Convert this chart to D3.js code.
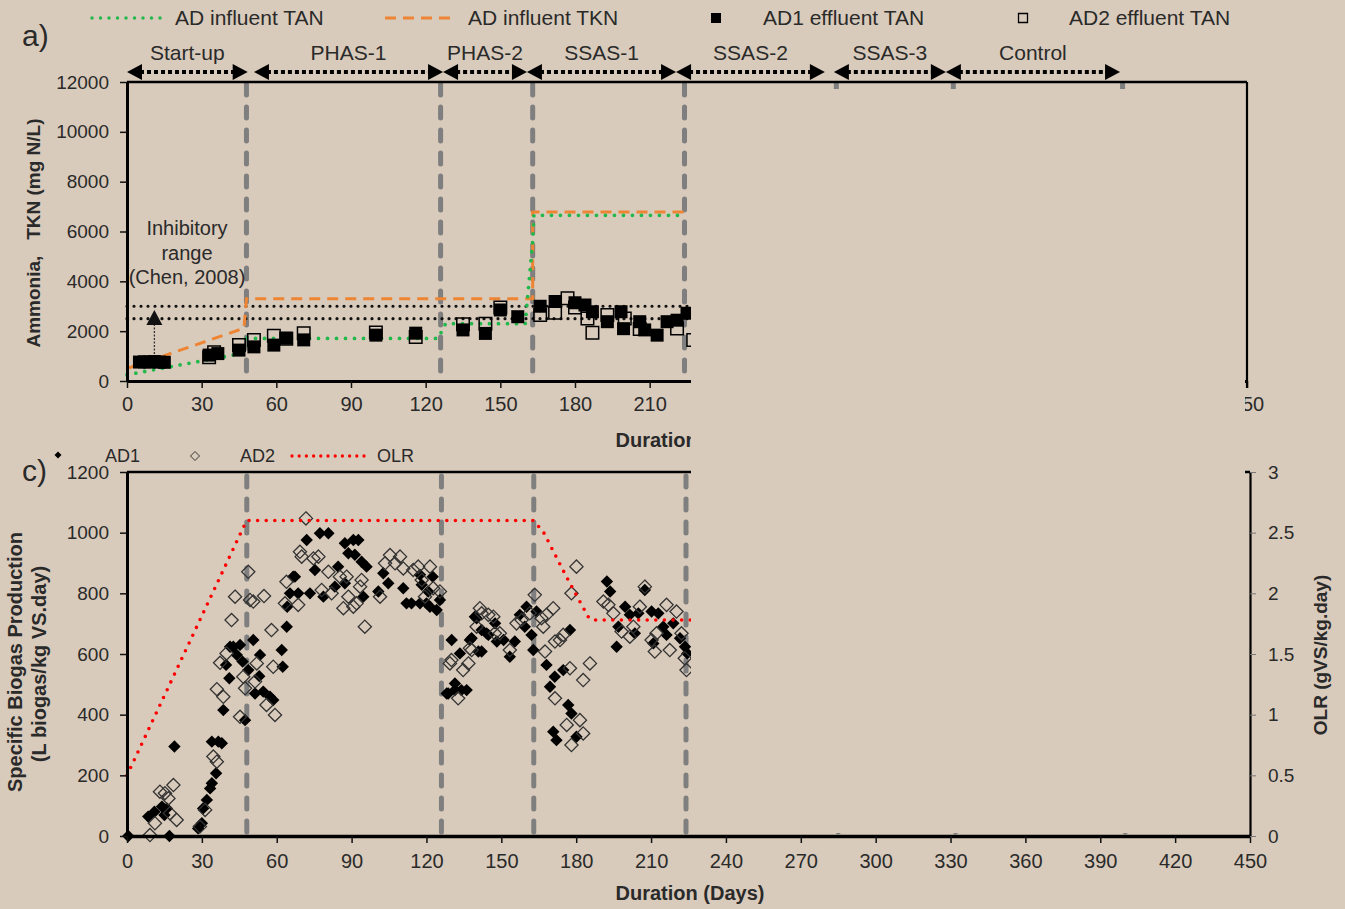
<!DOCTYPE html>
<html>
<head>
<meta charset="utf-8">
<script src="https://cdn.jsdelivr.net/npm/d3@7"></script>
<style>
body { margin: 0; background: #d9cbbb; }
text { font-family: "Liberation Sans", Arial, sans-serif; fill: #2a2a2a; }
</style>
</head>
<body>
<svg id="chart" width="1345" height="909"></svg>
<script>
// ---- data ----
var phaseNames = ["Start-up", "PHAS-1", "PHAS-2", "SSAS-1", "SSAS-2", "SSAS-3", "Control"];
var phaseStart = [0, 51, 127, 160.7, 220.6, 284, 329];
var phaseEnd = [48.5, 127, 160.7, 220.6, 280.4, 329, 399];
var boundaryDays = [48, 126, 163, 224, 285, 332, 400];

// top panel: ammonia / TKN (mg N/L)
var influentTan = [[0, 250], [47, 1120], [47.5, 1710], [125, 1710], [128, 2300], [160, 2300], [163, 5600], [163.5, 6650], [224, 6650]];
var influentTkn = [[0, 500], [47, 2120], [48, 3300], [163, 3300], [163, 6780], [224, 6780]];
var inhibitLow = 2500;
var inhibitHigh = 3000;
var inhibitArrow = {day: 11, from: 800, to: 2850};

var ad1Tan = [[5, 760], [7, 770], [9, 760], [11, 780], [13, 760], [15, 750],
    [33, 1040], [36.5, 1100], [45, 1240], [51, 1370], [59, 1440], [64, 1720], [71, 1650], [100, 1840], [116, 1920],
    [135, 2050], [144, 1910], [150, 2850], [157, 2580], [166, 3000], [172, 3190], [180, 3140], [184, 3050],
    [187, 2780], [193, 2380], [198.5, 2780], [199.5, 2100], [206, 2380], [208, 2050], [213, 1840], [217, 2380],
    [221, 2440], [225, 2720]];
var ad2Tan = [[33, 950], [35, 1150], [45, 1440], [51, 1650], [59, 1820], [64, 1700], [71, 1920], [100, 1950],
    [116, 1770], [135, 2280], [144, 2300], [150, 2950], [166, 2650], [172, 2740], [177, 3320], [180, 2950],
    [185, 2510], [187, 1940], [193, 2650], [200, 2510], [206, 2090], [221, 2110], [227.5, 1650]];

// bottom panel: specific biogas production (L biogas/kg VS.day) and OLR
var ad1Sbp = [[0.5, 0], [8.5, 64], [11, 80], [14, 97], [16, 91], [15, 69], [17, 0], [19, 295], [28.5, 25], [30, 42],
    [30.5, 91], [32, 119], [33.3, 157], [34, 174], [35.7, 207], [34, 311], [36.6, 311], [38, 306], [38.6, 415],
    [39.7, 564], [41, 520], [41.3, 624], [42.6, 624], [44, 597], [45.3, 630], [46.3, 575], [47.3, 382], [48.6, 547],
    [50.6, 646], [53.3, 597], [53, 527], [51.3, 470], [54.6, 476], [57.3, 459], [58.6, 448], [62, 613], [62.4, 558],
    [64, 690], [64.2, 756], [66.6, 855], [67.3, 855], [65.3, 800], [68.6, 800], [72, 976], [75.3, 877], [77.3, 998],
    [80.7, 998], [73.3, 800], [78.7, 789], [83.3, 822], [84.6, 888], [87.3, 965], [88.7, 932], [90.7, 976],
    [92.7, 976], [91.3, 927], [94, 904], [96, 888], [94.7, 789], [87.3, 833], [100.7, 806], [102.7, 866],
    [104.7, 833], [110.7, 817], [112, 767], [114, 767], [117.4, 861], [118.1, 828], [120.7, 806], [122.5, 855],
    [121.4, 756], [124.1, 745], [125.4, 778], [120, 767], [117.4, 767],
    [128.1, 470], [128.7, 470], [130.1, 646], [131.4, 503], [131.4, 481], [133.4, 602], [134, 481], [136.1, 481],
    [137.4, 646], [138.1, 652], [139.4, 723], [140.1, 718], [140.8, 608], [142.1, 608], [142.1, 679], [144.1, 668],
    [144.8, 663], [147.5, 701], [148.2, 641], [150.9, 646], [153.4, 591], [155.4, 641], [157.4, 729], [159.4, 690],
    [160.1, 756], [162.1, 663], [162.8, 613], [164.1, 740], [168.1, 564], [169.5, 492], [171.4, 525], [174.8, 547],
    [177.5, 679], [170.8, 344], [172.1, 316], [176.8, 432], [178.1, 404], [180.1, 327], [192.3, 839], [193.6, 806],
    [196.2, 624], [196.9, 690], [199.6, 756], [201.5, 729], [203.5, 668], [204.9, 734], [207.5, 811], [210.2, 740],
    [210.9, 635], [212.9, 734], [214.9, 690], [216.2, 663], [218.9, 701], [221.6, 652], [223.6, 624], [224.5, 602]];
var ad2Sbp = [[9.2, 3], [11.2, 42], [13.2, 146], [15.2, 141], [16.6, 124], [18.6, 168], [19.9, 53], [17.2, 75],
    [29.2, 31], [31.3, 86], [34.6, 262], [36, 245], [36, 484], [38.6, 459], [37.3, 571], [39.9, 602], [41.9, 712],
    [43.3, 789], [45.3, 393], [46.6, 525], [47.3, 487], [48.6, 871], [49.3, 778], [50.6, 773], [51.3, 509], [52, 569],
    [54.9, 791], [55.9, 432], [57.9, 679], [58.6, 558], [59.3, 399], [63.3, 767], [63.9, 838], [68.6, 762],
    [69.3, 937], [70, 921], [71.7, 1047], [74.7, 915], [76.7, 921], [78, 811], [80.7, 871], [82, 800], [85.3, 855],
    [86.7, 751], [88, 855], [88.7, 789], [90.7, 756], [92, 767], [93.4, 822], [95.3, 690], [94, 844], [101.4, 789],
    [103.4, 899], [105.4, 926], [107.4, 899], [109.4, 921], [110.7, 882], [114.7, 877], [116.7, 888], [118.1, 844],
    [119.4, 789], [121.4, 888], [122.7, 817], [125.4, 806],
    [129.4, 569], [130, 580], [132.7, 454], [134.7, 547], [136.8, 569], [137.4, 619], [138.1, 613], [140.1, 690],
    [141.4, 751], [142.1, 734], [144.8, 729], [146.8, 723], [147.4, 668], [149.4, 668], [153.4, 613], [156.1, 701],
    [158.1, 712], [161.4, 734], [163.4, 795], [166.1, 718], [166.8, 690], [168.1, 729], [170.8, 751], [167.5, 608],
    [171.5, 641], [173.5, 646], [174.8, 663], [177.5, 553], [178.1, 800], [180.1, 888], [171.5, 454], [176.2, 366],
    [178.1, 300], [181.5, 382], [182.8, 338], [182.8, 514], [185.5, 569], [190.9, 773], [192.9, 762], [194.9, 734],
    [198.2, 674], [201.5, 657], [202.9, 690], [205.5, 756], [207.5, 822], [210.2, 646], [211.5, 608], [212.2, 668],
    [216.2, 762], [217.5, 613], [220.2, 740], [222.2, 668], [223.5, 586], [224.2, 547]];
var olr = [[0, 0.5], [47, 2.56], [48, 2.6], [163, 2.6], [167, 2.5], [172, 2.3], [176, 2.14], [181, 1.95], [185, 1.8],
    [186.5, 1.78], [226, 1.78]];

var dayTicks = d3.range(0, 451, 30);
var tanTicks = d3.range(0, 12001, 2000);
var sbpTicks = d3.range(0, 1201, 200);
var olrTicks = [0, 0.5, 1, 1.5, 2, 2.5, 3];

// ---- drawing ----
var bg = "#d9cbbb";
var green = "#22b84c";
var orange = "#ee8534";
var svg = d3.select("#chart");
svg.append("rect").attr("width", 1345).attr("height", 909).attr("fill", bg);

var xTop = d3.scaleLinear().domain([0, 450]).range([127, 1247]);
var yTop = d3.scaleLinear().domain([0, 12000]).range([381, 82]);
var xBot = d3.scaleLinear().domain([0, 450]).range([127, 1250]);
var yBot = d3.scaleLinear().domain([0, 1200]).range([836, 472]);
var yOlr = d3.scaleLinear().domain([0, 3]).range([836, 472]);

function styleAxis(g, size) {
    g.attr("font-family", null).attr("font-size", null);
    g.selectAll("text").style("font-size", size + "px").style("fill", "#2a2a2a");
    g.selectAll(".tick line").attr("stroke", "#111").attr("stroke-width", 1.5);
}

function squarePath(s) {
    return "M" + (-s / 2) + "," + (-s / 2) + "h" + s + "v" + s + "h" + (-s) + "Z";
}
function diamondPath(r) {
    return "M0," + (-r) + "L" + r + ",0L0," + r + "L" + (-r) + ",0Z";
}

var content = svg.append("g");

// vertical phase boundaries (both panels)
content.selectAll(".bTop").data(boundaryDays).enter().append("line")
    .attr("x1", function(d) { return xTop(d); }).attr("x2", function(d) { return xTop(d); })
    .attr("y1", 84).attr("y2", 381)
    .attr("stroke", "#7f7f7f").attr("stroke-width", 5).attr("stroke-linecap", "round").attr("stroke-dasharray", "11,12");
content.selectAll(".bBot").data(boundaryDays).enter().append("line")
    .attr("x1", function(d) { return xBot(d); }).attr("x2", function(d) { return xBot(d); })
    .attr("y1", 476).attr("y2", 836)
    .attr("stroke", "#7f7f7f").attr("stroke-width", 5).attr("stroke-linecap", "round").attr("stroke-dasharray", "11,12");

// inhibitory range lines
[inhibitLow, inhibitHigh].forEach(function(v) {
    content.append("line")
        .attr("x1", xTop(0)).attr("x2", xTop(450))
        .attr("y1", yTop(v)).attr("y2", yTop(v))
        .attr("stroke", "#111").attr("stroke-width", 3.2)
        .attr("stroke-linecap", "round").attr("stroke-dasharray", "0,7");
});

var lineTop = d3.line().x(function(d) { return xTop(d[0]); }).y(function(d) { return yTop(d[1]); });
content.append("path").datum(influentTkn).attr("d", lineTop)
    .attr("fill", "none").attr("stroke", orange).attr("stroke-width", 3).attr("stroke-dasharray", "11,7");
content.append("path").datum(influentTan).attr("d", lineTop)
    .attr("fill", "none").attr("stroke", green).attr("stroke-width", 3.8)
    .attr("stroke-linecap", "round").attr("stroke-dasharray", "0,9");

// inhibition arrow
content.append("line")
    .attr("x1", xTop(inhibitArrow.day)).attr("x2", xTop(inhibitArrow.day))
    .attr("y1", yTop(inhibitArrow.from)).attr("y2", yTop(inhibitArrow.to) + 14)
    .attr("stroke", "#333").attr("stroke-width", 1.3).attr("stroke-dasharray", "2,1.5");
content.append("path")
    .attr("transform", "translate(" + xTop(inhibitArrow.day) + "," + yTop(inhibitArrow.to) + ")")
    .attr("d", "M0,0L8,15L-8,15Z").attr("fill", "#111");

var inhib = content.append("text").attr("text-anchor", "middle").style("font-size", "20px");
["Inhibitory", "range", "(Chen, 2008)"].forEach(function(t, i) {
    inhib.append("tspan").attr("x", 187).attr("y", 235 + i * 24.5).text(t);
});

// effluent TAN squares
content.selectAll(".ad1t").data(ad1Tan).enter().append("path")
    .attr("transform", function(d) { return "translate(" + xTop(d[0]) + "," + yTop(d[1]) + ")"; })
    .attr("d", squarePath(13)).attr("fill", "#000");
content.selectAll(".ad2t").data(ad2Tan).enter().append("path")
    .attr("transform", function(d) { return "translate(" + xTop(d[0]) + "," + yTop(d[1]) + ")"; })
    .attr("d", squarePath(12.5)).attr("fill", "none").attr("stroke", "#000").attr("stroke-width", 1.5);

// biogas diamonds
content.selectAll(".ad1s").data(ad1Sbp).enter().append("path")
    .attr("transform", function(d) { return "translate(" + xBot(d[0]) + "," + yBot(d[1]) + ")"; })
    .attr("d", diamondPath(6.2)).attr("fill", "#000");
content.selectAll(".ad2s").data(ad2Sbp).enter().append("path")
    .attr("transform", function(d) { return "translate(" + xBot(d[0]) + "," + yBot(d[1]) + ")"; })
    .attr("d", diamondPath(6.6)).attr("fill", "none").attr("stroke", "#333").attr("stroke-width", 1.3);

// OLR line
var lineOlr = d3.line().x(function(d) { return xBot(d[0]); }).y(function(d) { return yOlr(d[1]); });
content.append("path").datum(olr).attr("d", lineOlr)
    .attr("fill", "none").attr("stroke", "#ff0000").attr("stroke-width", 3.6)
    .attr("stroke-linecap", "round").attr("stroke-dasharray", "0,8.6");

// top panel bottom axis (partly hidden later)
var xAxisTop = content.append("g").attr("transform", "translate(0,381)")
    .call(d3.axisBottom(xTop).tickValues(dayTicks).tickSize(7).tickPadding(9).tickSizeOuter(0));
xAxisTop.select(".domain").attr("stroke", "#000").attr("stroke-width", 3);
styleAxis(xAxisTop, 20);
content.append("text").attr("x", 690).attr("y", 447).attr("text-anchor", "middle")
    .style("font-size", "20px").style("font-weight", "bold").text("Duration (Days)");

// bottom panel top border
content.append("line").attr("x1", 127).attr("x2", 1250).attr("y1", 472).attr("y2", 472)
    .attr("stroke", "#000").attr("stroke-width", 2.5);

// cover block over the later part of the record
svg.append("rect").attr("x", 691).attr("y", 89).attr("width", 554).attr("height", 744).attr("fill", bg);

// frames and axes on top
svg.append("line").attr("x1", 127).attr("x2", 1247).attr("y1", 82).attr("y2", 82)
    .attr("stroke", "#000").attr("stroke-width", 2.5);
svg.append("line").attr("x1", 1247).attr("x2", 1247).attr("y1", 82).attr("y2", 388)
    .attr("stroke", "#000").attr("stroke-width", 2.2);

var yAxisTop = svg.append("g").attr("transform", "translate(127,0)")
    .call(d3.axisLeft(yTop).tickValues(tanTicks).tickFormat(d3.format("d")).tickSize(7).tickPadding(11).tickSizeOuter(0));
yAxisTop.select(".domain").attr("stroke", "#000").attr("stroke-width", 3);
styleAxis(yAxisTop, 19);

var xAxisBot = svg.append("g").attr("transform", "translate(0,836)")
    .call(d3.axisBottom(xBot).tickValues(dayTicks).tickSize(7).tickPadding(11).tickSizeOuter(0));
xAxisBot.select(".domain").attr("stroke", "#000").attr("stroke-width", 3.5);
styleAxis(xAxisBot, 20);

var yAxisBot = svg.append("g").attr("transform", "translate(127,0)")
    .call(d3.axisLeft(yBot).tickValues(sbpTicks).tickFormat(d3.format("d")).tickSize(7).tickPadding(11).tickSizeOuter(0));
yAxisBot.select(".domain").attr("stroke", "#000").attr("stroke-width", 3);
styleAxis(yAxisBot, 19);

var yAxisOlr = svg.append("g").attr("transform", "translate(1250,0)")
    .call(d3.axisRight(yOlr).tickValues(olrTicks).tickFormat(function(d) { return String(d); })
        .tickSize(6).tickPadding(12).tickSizeOuter(0));
yAxisOlr.select(".domain").attr("stroke", "#000").attr("stroke-width", 2.2);
styleAxis(yAxisOlr, 19);
yAxisOlr.selectAll(".tick line").attr("stroke", "#777").attr("stroke-width", 1);

// axis titles
svg.append("text").attr("transform", "translate(33,233) rotate(-90)").attr("dy", "0.35em")
    .attr("text-anchor", "middle").style("font-size", "19px").style("font-weight", "bold")
    .style("white-space", "pre").text("Ammonia,   TKN (mg N/L)");
svg.append("text").attr("transform", "translate(15,662) rotate(-90)").attr("dy", "0.35em")
    .attr("text-anchor", "middle").style("font-size", "20px").style("font-weight", "bold")
    .text("Specific Biogas Production");
svg.append("text").attr("transform", "translate(39,664) rotate(-90)").attr("dy", "0.35em")
    .attr("text-anchor", "middle").style("font-size", "20px").style("font-weight", "bold")
    .text("(L biogas/kg VS.day)");
svg.append("text").attr("transform", "translate(1320,655) rotate(-90)").attr("dy", "0.35em")
    .attr("text-anchor", "middle").style("font-size", "19px").style("font-weight", "bold")
    .text("OLR (gVS/kg.day)");
svg.append("text").attr("x", 690).attr("y", 900).attr("text-anchor", "middle")
    .style("font-size", "20px").style("font-weight", "bold").text("Duration (Days)");

// panel letters
svg.append("text").attr("x", 22).attr("y", 46).style("font-size", "30px").text("a)");
svg.append("text").attr("x", 22).attr("y", 481).style("font-size", "30px").text("c)");

// phase arrows
var phases = phaseNames.map(function(n, i) { return {name: n, s: phaseStart[i], e: phaseEnd[i]}; });
var arrowY = 72;
var pg = svg.selectAll(".phase").data(phases).enter().append("g");
pg.append("line")
    .attr("x1", function(d) { return xTop(d.s) + 13; }).attr("x2", function(d) { return xTop(d.e) - 13; })
    .attr("y1", arrowY).attr("y2", arrowY)
    .attr("stroke", "#000").attr("stroke-width", 4).attr("stroke-dasharray", "4,3");
pg.append("path")
    .attr("d", function(d) { var x = xTop(d.s); return "M" + x + "," + arrowY + "L" + (x + 15) + "," + (arrowY - 8) + "L" + (x + 15) + "," + (arrowY + 8) + "Z"; })
    .attr("fill", "#000");
pg.append("path")
    .attr("d", function(d) { var x = xTop(d.e); return "M" + x + "," + arrowY + "L" + (x - 15) + "," + (arrowY - 8) + "L" + (x - 15) + "," + (arrowY + 8) + "Z"; })
    .attr("fill", "#000");
pg.append("text")
    .attr("x", function(d) { return (xTop(d.s) + xTop(d.e)) / 2; }).attr("y", 60)
    .attr("text-anchor", "middle").style("font-size", "21px")
    .text(function(d) { return d.name; });

// top legend
var leg = svg.append("g");
leg.append("line").attr("x1", 92).attr("x2", 162).attr("y1", 18).attr("y2", 18)
    .attr("stroke", green).attr("stroke-width", 3.5).attr("stroke-linecap", "round").attr("stroke-dasharray", "0,8.5");
leg.append("text").attr("x", 175).attr("y", 25).style("font-size", "21px").text("AD influent TAN");
leg.append("line").attr("x1", 385).attr("x2", 455).attr("y1", 18).attr("y2", 18)
    .attr("stroke", orange).attr("stroke-width", 3).attr("stroke-dasharray", "11,7");
leg.append("text").attr("x", 468).attr("y", 25).style("font-size", "21px").text("AD influent TKN");
leg.append("path").attr("transform", "translate(716,18)").attr("d", squarePath(10)).attr("fill", "#000");
leg.append("text").attr("x", 763).attr("y", 25).style("font-size", "21px").text("AD1 effluent TAN");
leg.append("path").attr("transform", "translate(1023,18)").attr("d", squarePath(9))
    .attr("fill", "none").attr("stroke", "#000").attr("stroke-width", 1.3);
leg.append("text").attr("x", 1069).attr("y", 25).style("font-size", "21px").text("AD2 effluent TAN");

// bottom legend
var leg2 = svg.append("g");
leg2.append("path").attr("transform", "translate(58,455)").attr("d", diamondPath(3.5)).attr("fill", "#000");
leg2.append("text").attr("x", 105).attr("y", 462).style("font-size", "18px").text("AD1");
leg2.append("path").attr("transform", "translate(195,456)").attr("d", diamondPath(4.5))
    .attr("fill", "none").attr("stroke", "#333").attr("stroke-width", 1);
leg2.append("text").attr("x", 240).attr("y", 462).style("font-size", "18px").text("AD2");
leg2.append("line").attr("x1", 292).attr("x2", 364).attr("y1", 456).attr("y2", 456)
    .attr("stroke", "#ff0000").attr("stroke-width", 3.3).attr("stroke-linecap", "round").attr("stroke-dasharray", "0,7.2");
leg2.append("text").attr("x", 377).attr("y", 462).style("font-size", "18px").text("OLR");
</script>
</body>
</html>
